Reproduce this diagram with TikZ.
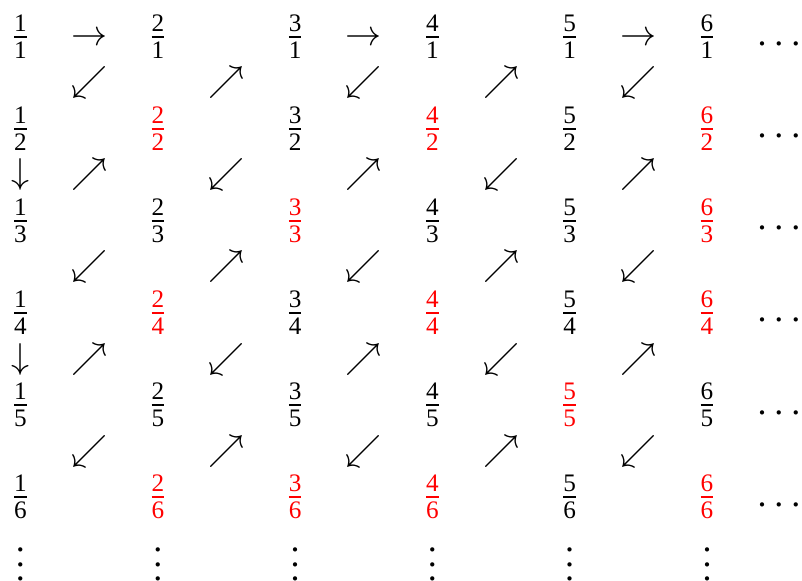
\documentclass[tikz,border=0pt]{standalone}
\usepackage{amsmath}
\usepackage{fontspec}
\setmainfont{Liberation Serif}
\begin{document}
\begin{tikzpicture}[x=0.2778pt,y=-0.2778pt,
  frac/.style={anchor=base,yshift=-2.5pt,inner sep=0pt},
  arr/.style={anchor=base,yshift=-2.5pt,inner sep=0pt},
  hdots/.style={anchor=base,yshift=-2.5pt,inner sep=0pt},
  vdts/.style={anchor=base,inner sep=0pt}]
\useasboundingbox (0,0) rectangle (802,580);
% fractions n/d
\foreach \nn in {1,...,6}{
  \foreach \dd in {1,...,6}{
    \pgfmathtruncatemacro{\gg}{gcd(\nn,\dd)}
    \ifnum\gg>1 \def\fcol{red}\else\def\fcol{black}\fi
    \node[frac,text=\fcol] (f\nn\dd) at ({20.5+137.3*(\nn-1)},{37+92*(\dd-1)}) {$\tfrac{\text{\nn}}{\text{\dd}}$};
  }
}
% arrows
\foreach \cc/\rr/\gl [count=\i] in {1/0/\rightarrow, 5/0/\rightarrow, 9/0/\rightarrow,
  1/1/\swarrow, 3/1/\nearrow, 5/1/\swarrow, 7/1/\nearrow, 9/1/\swarrow,
  0/3/\downarrow, 1/3/\nearrow, 3/3/\swarrow, 5/3/\nearrow, 7/3/\swarrow, 9/3/\nearrow,
  1/5/\swarrow, 3/5/\nearrow, 5/5/\swarrow, 7/5/\nearrow, 9/5/\swarrow,
  0/7/\downarrow, 1/7/\nearrow, 3/7/\swarrow, 5/7/\nearrow, 7/7/\swarrow, 9/7/\nearrow,
  1/9/\swarrow, 3/9/\nearrow, 5/9/\swarrow, 7/9/\nearrow, 9/9/\swarrow}
  \node[arr] (a\i) at ({20.5+68.65*\cc},{37+46*\rr}) {$\gl$};
% horizontal dots
\foreach \dd in {1,...,6}
  \node[hdots] (h\dd) at (779,{37+92*(\dd-1)}) {.\hspace{2.2pt}.\hspace{2.2pt}.};
% vertical dots
\foreach \nn in {1,...,6}
  \node[vdts] (v\nn) at ({20.5+137.3*(\nn-1)},580.5) {$\vdots$};
\end{tikzpicture}
\end{document}
